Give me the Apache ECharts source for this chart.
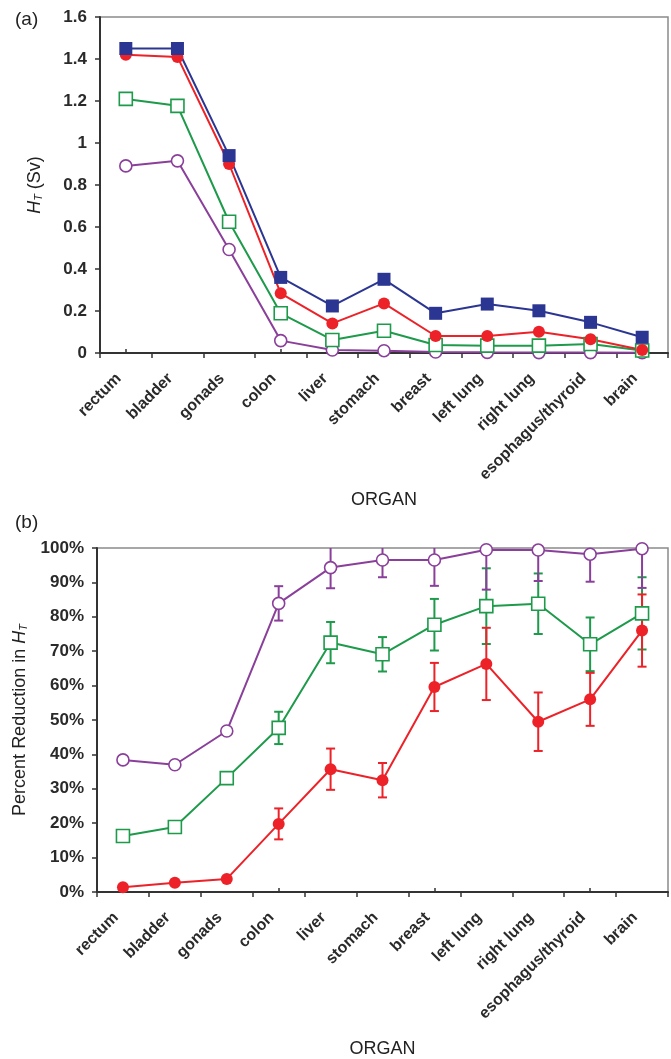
<!DOCTYPE html>
<html>
<head>
<meta charset="utf-8">
<script src="https://cdn.jsdelivr.net/npm/echarts@6/dist/echarts.min.js"></script>
<style>
html,body{margin:0;padding:0;background:#fff;}
#chart{width:671px;height:1059px;}
</style>
</head>
<body>
<div id="chart"></div>
<script>
// ---- data ----
var organs = ['rectum','bladder','gonads','colon','liver','stomach','breast','left lung','right lung','esophagus/thyroid','brain'];

// (a) H_T (Sv)
var doseBlue   = [1.45, 1.45, 0.94, 0.36, 0.224, 0.351, 0.189, 0.233, 0.201, 0.146, 0.075];
var doseRed    = [1.42, 1.41, 0.90, 0.284, 0.141, 0.236, 0.081, 0.081, 0.101, 0.065, 0.014];
var doseGreen  = [1.21, 1.177, 0.625, 0.189, 0.062, 0.106, 0.038, 0.035, 0.035, 0.043, 0.012];
var dosePurple = [0.891, 0.915, 0.493, 0.059, 0.014, 0.011, 0.005, 0.003, 0.002, 0.002, 0.001];
var doseTicks = [0, 0.2, 0.4, 0.6, 0.8, 1, 1.2, 1.4, 1.6];

// (b) Percent reduction in H_T
var redPct      = [1.4, 2.7, 3.8, 19.8, 35.7, 32.5, 59.6, 66.3, 49.5, 56, 76];
var redErr      = [0, 0, 0, 4.5, 6, 5, 7, 10.5, 8.5, 7.7, 10.5];
var greenPct    = [16.3, 18.9, 33.1, 47.7, 72.5, 69.1, 77.7, 83.1, 83.8, 72, 81];
var greenErr    = [0, 0, 0, 4.7, 6, 5, 7.5, 11, 8.8, 7.8, 10.5];
var purplePct   = [38.4, 37, 46.8, 83.9, 94.3, 96.5, 96.5, 99.5, 99.4, 98.2, 99.8];
var purpleErr   = [0, 0, 0, 5, 6, 5, 7.5, 11.6, 9, 8, 11.4];

var C_BLUE = '#2b3592', C_RED = '#ec2228', C_GREEN = '#1d9a4a', C_PURPLE = '#8a3f9a';
var FONT = "'Liberation Sans', Arial, sans-serif";
var TXT = '#333333';

function errData(vals, errs) {
  var out = [];
  for (var i = 0; i < vals.length; i++) {
    if (errs[i] > 0) out.push([i, Math.max(0, vals[i] - errs[i]), Math.min(100, vals[i] + errs[i]), vals[i] + errs[i] > 100 ? 1 : 0]);
  }
  return out;
}

function errSeries(vals, errs, color) {
  return {
    type: 'custom', xAxisIndex: 2, yAxisIndex: 1, z: 3,
    data: errData(vals, errs),
    renderItem: function (params, api) {
      var x = api.value(0);
      var lo = api.coord([x, api.value(1)]);
      var hi = api.coord([x, api.value(2)]);
      var clipped = api.value(3);
      var w = 4.5;
      var st = { stroke: color, lineWidth: 2 };
      var ch = [
        { type: 'line', shape: { x1: lo[0], y1: lo[1], x2: hi[0], y2: hi[1] }, style: st },
        { type: 'line', shape: { x1: lo[0] - w, y1: lo[1], x2: lo[0] + w, y2: lo[1] }, style: st }
      ];
      if (!clipped) ch.push({ type: 'line', shape: { x1: hi[0] - w, y1: hi[1], x2: hi[0] + w, y2: hi[1] }, style: st });
      return { type: 'group', children: ch };
    }
  };
}

function lineSeries(xi, yi, data, color, symbol, filled, size) {
  return {
    type: 'line', xAxisIndex: xi, yAxisIndex: yi, data: data, z: 4,
    symbol: symbol, symbolSize: size, showSymbol: true,
    lineStyle: { color: color, width: 2 },
    itemStyle: { color: filled ? color : '#ffffff', borderColor: color, borderWidth: filled ? 0 : 1.6 },
    animation: false
  };
}

function catAxes(grid, nameText, nameGap) {
  return [
    {
      type: 'category', gridIndex: grid, data: organs, boundaryGap: true,
      axisLine: { show: true, lineStyle: { color: TXT, width: 2 } },
      axisTick: { show: true, inside: false, length: 5, lineStyle: { color: TXT, width: 1.5 } },
      axisLabel: { interval: 0, rotate: 45, margin: 16, padding: [0, 10, 0, 0], color: '#2a2a2a', fontFamily: FONT, fontWeight: 'bold', fontSize: 16 },
      name: nameText, nameLocation: 'middle', nameGap: nameGap,
      nameTextStyle: { fontFamily: "'Liberation Sans Narrow', 'Liberation Sans', Arial, sans-serif", fontSize: 18, color: '#222' }
    },
    {
      type: 'category', gridIndex: grid, data: organs, boundaryGap: true, position: 'bottom',
      axisLine: { show: false },
      axisTick: { show: true, inside: true, alignWithLabel: true, length: 4, lineStyle: { color: TXT, width: 1.5 } },
      axisLabel: { show: false }
    }
  ];
}

var xAxes = catAxes(0, 'ORGAN', 138).concat(catAxes(1, 'ORGAN', 148));

var nameRich = {
  i: { fontStyle: 'italic', fontFamily: FONT, fontSize: 18, color: '#222' },
  s: { fontStyle: 'italic', fontFamily: FONT, fontSize: 11, color: '#222', padding: [7, 0, 0, 0] }
};

var option = {
  animation: false,
  backgroundColor: '#ffffff',
  grid: [
    { left: 100, top: 17, width: 568, height: 336, show: true, borderColor: '#8a8a8a', borderWidth: 1.5, backgroundColor: 'transparent' },
    { left: 97, top: 548, width: 571, height: 350, show: true, borderColor: '#8a8a8a', borderWidth: 1.5, backgroundColor: 'transparent' }
  ],
  title: [
    { text: '(a)', left: 10, top: 5, textStyle: { fontFamily: FONT, fontWeight: 'normal', fontSize: 19, color: '#222' } },
    { text: '(b)', left: 10, top: 508, textStyle: { fontFamily: FONT, fontWeight: 'normal', fontSize: 19, color: '#222' } }
  ],
  xAxis: xAxes,
  yAxis: [
    {
      type: 'value', gridIndex: 0, min: doseTicks[0], max: doseTicks[doseTicks.length - 1], interval: 0.2,
      splitLine: { show: false },
      axisLine: { show: true, lineStyle: { color: TXT, width: 2 } },
      axisTick: { show: true, length: 5, lineStyle: { color: TXT, width: 1.5 } },
      axisLabel: { margin: 13, color: '#2a2a2a', fontFamily: FONT, fontWeight: 'bold', fontSize: 17,
        formatter: function (v) { return String(Math.round(v * 10) / 10); } },
      name: '{i|H}{s|T} (Sv)', nameLocation: 'middle', nameRotate: 90, nameGap: 56,
      nameTextStyle: { fontFamily: FONT, fontSize: 18, color: '#222', rich: nameRich }
    },
    {
      type: 'value', gridIndex: 1, min: 0, max: 100, interval: 10,
      splitLine: { show: false },
      axisLine: { show: true, lineStyle: { color: TXT, width: 2 } },
      axisTick: { show: true, length: 5, lineStyle: { color: TXT, width: 1.5 } },
      axisLabel: { margin: 13, color: '#2a2a2a', fontFamily: FONT, fontWeight: 'bold', fontSize: 17, formatter: '{value}%' },
      name: 'Percent Reduction in {i|H}{s|T}', nameLocation: 'middle', nameRotate: 90, nameGap: 68,
      nameTextStyle: { fontFamily: FONT, fontSize: 18, color: '#222', rich: nameRich }
    }
  ],
  series: [
    lineSeries(0, 0, dosePurple, C_PURPLE, 'circle', false, 12),
    lineSeries(0, 0, doseGreen, C_GREEN, 'rect', false, 13),
    lineSeries(0, 0, doseRed, C_RED, 'circle', true, 12),
    lineSeries(0, 0, doseBlue, C_BLUE, 'rect', true, 13),
    errSeries(greenPct, greenErr, C_GREEN),
    errSeries(redPct, redErr, C_RED),
    errSeries(purplePct, purpleErr, C_PURPLE),
    lineSeries(2, 1, redPct, C_RED, 'circle', true, 12),
    lineSeries(2, 1, greenPct, C_GREEN, 'rect', false, 13),
    lineSeries(2, 1, purplePct, C_PURPLE, 'circle', false, 12)
  ]
};

var chart = echarts.init(document.getElementById('chart'), null, { renderer: 'canvas' });
chart.setOption(option);
</script>
</body>
</html>
